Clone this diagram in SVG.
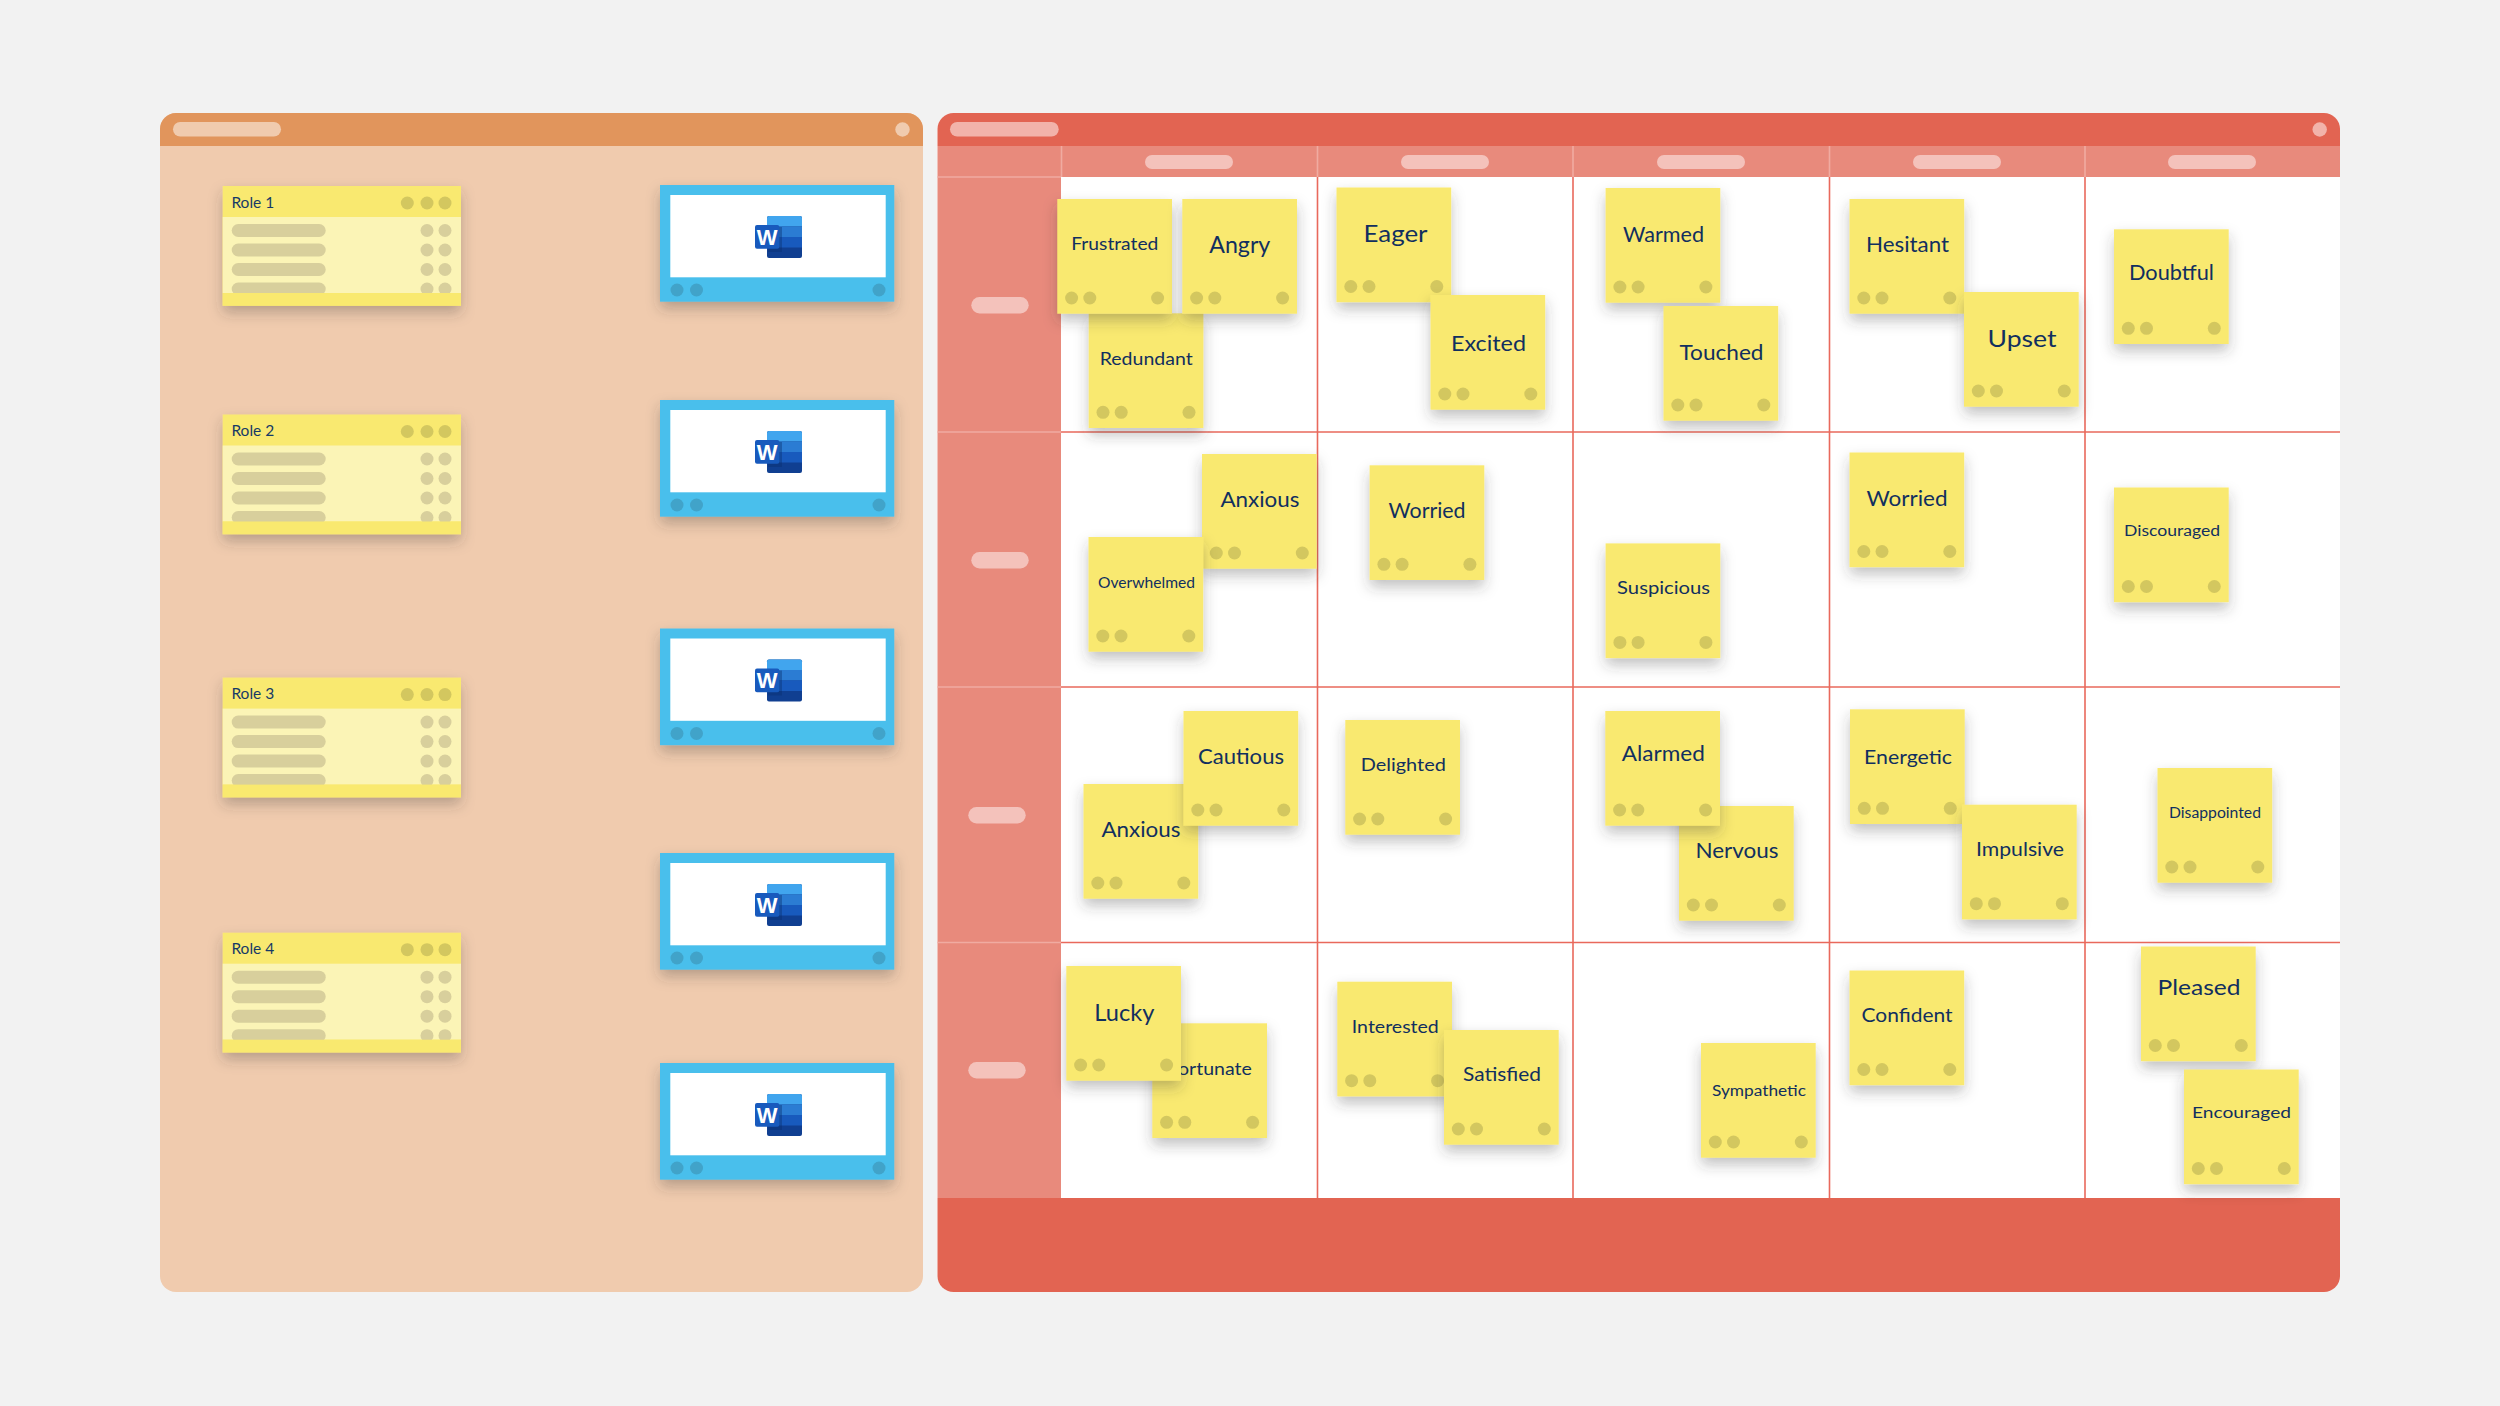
<svg xmlns="http://www.w3.org/2000/svg" width="2500" height="1406" viewBox="0 0 2500 1406">
<style>
.n{font-family:"Lato","Liberation Sans",sans-serif;fill:#112f5f;text-anchor:middle;dominant-baseline:central;font-weight:400;transform:translateY(-0.4px)}
.role{font-family:"Lato","Liberation Sans",sans-serif;fill:#163a66;font-size:15.5px;font-weight:400;dominant-baseline:central}
.pill{fill:#f4c2bb}
.line{stroke:#e9695c;stroke-width:1.6;fill:none}
.sep{stroke:#f0aba1;stroke-width:1.6;fill:none}
.d1{fill:#d3c75f}
.d2{fill:#d8cf9c}
.d3{fill:#41a3c9}
.wt{font-family:"Liberation Sans",sans-serif;font-weight:700;font-size:22px;fill:#fff;text-anchor:middle}
</style>
<defs>
<filter id="sh" x="-25%" y="-25%" width="150%" height="160%"><feDropShadow dx="0" dy="7" stdDeviation="7" flood-color="#3a3a3a" flood-opacity=".3"/></filter>
<g id="note"><rect width="114.7" height="114.7" fill="#f9e96f" filter="url(#sh)"/><circle class="d1" cx="14.3" cy="99" r="6.5"/><circle class="d1" cx="32.5" cy="99" r="6.5"/><circle class="d1" cx="100.3" cy="99" r="6.5"/></g>
<g id="rolecard">
<rect width="238.3" height="119.7" fill="#f9e96f" filter="url(#sh)"/>
<rect y="31" width="238.3" height="76" fill="#fbf4b6"/>
<rect x="9" y="38" width="94" height="13" rx="6.5" class="d2"/><rect x="9" y="57.5" width="94" height="13" rx="6.5" class="d2"/><rect x="9" y="77" width="94" height="13" rx="6.5" class="d2"/><rect x="9" y="96.5" width="94" height="13" rx="6.5" class="d2"/>
<circle class="d2" cx="204.3" cy="44.5" r="6.5"/><circle class="d2" cx="222.3" cy="44.5" r="6.5"/><circle class="d2" cx="204.3" cy="64" r="6.5"/><circle class="d2" cx="222.3" cy="64" r="6.5"/><circle class="d2" cx="204.3" cy="83.5" r="6.5"/><circle class="d2" cx="222.3" cy="83.5" r="6.5"/><circle class="d2" cx="204.3" cy="103" r="6.5"/><circle class="d2" cx="222.3" cy="103" r="6.5"/>
<rect y="107" width="238.3" height="12.7" fill="#f9e96f"/>
<circle class="d1" cx="184.6" cy="17" r="6.5"/><circle class="d1" cx="204.3" cy="17" r="6.5"/><circle class="d1" cx="222.3" cy="17" r="6.5"/>
</g>
<g id="word">
<rect width="234.3" height="116.7" fill="#4abfec" filter="url(#sh)"/>
<rect x="10.3" y="10" width="215.4" height="82.3" fill="#fff"/>
<circle class="d3" cx="17" cy="105" r="6.5"/><circle class="d3" cx="36.5" cy="105" r="6.5"/><circle class="d3" cx="219" cy="105" r="6.5"/>
<rect x="107" y="31" width="35" height="42" rx="2" fill="#103f91"/>
<path d="M107 33a2 2 0 0 1 2-2h31a2 2 0 0 1 2 2v8.500h-35z" fill="#41a5ee"/>
<rect x="107" y="41.500" width="35" height="10.500" fill="#2b7cd3"/>
<rect x="107" y="52" width="35" height="10.500" fill="#185abd"/>
<rect x="108" y="42" width="14" height="25" fill="#0b2f6e" opacity=".4"/>
<rect x="95" y="40" width="24.300" height="23.700" rx="2" fill="#185abd"/>
<text class="wt" x="107.200" y="59.500">W</text>
</g>
</defs>
<rect width="2500" height="1406" fill="#f2f2f2"/>

<g id="panel-left">
<path d="M176 113H907a16 16 0 0 1 16 16V1276a16 16 0 0 1-16 16H176a16 16 0 0 1-16-16V129a16 16 0 0 1 16-16z" fill="#f0cbae"/>
<path d="M176 113H907a16 16 0 0 1 16 16V146H160V129a16 16 0 0 1 16-16z" fill="#e1955c"/>
<rect x="173" y="122" width="108" height="14.500" rx="7.200" fill="#f0cbae"/>
<circle cx="902.500" cy="129.500" r="7.200" fill="#f0cbae"/>
</g>

<g id="panel-right">
<path d="M953.500 113H2324a16 16 0 0 1 16 16V1276a16 16 0 0 1-16 16H953.500a16 16 0 0 1-16-16V129a16 16 0 0 1 16-16z" fill="#fff"/>
<rect x="937.500" y="146" width="1402.500" height="31" fill="#e88a7c"/>
<rect x="937.500" y="177" width="123.500" height="1021" fill="#e88a7c"/>
<path d="M953.500 113H2324a16 16 0 0 1 16 16V146H937.500V129a16 16 0 0 1 16-16z" fill="#e26452"/>
<path d="M937.500 1198H2340V1276a16 16 0 0 1-16 16H953.500a16 16 0 0 1-16-16z" fill="#e26452"/>
<path class="sep" d="M1061.500 146V177M1317.500 146V177M1573 146V177M1829.500 146V177M2085 146V177M937.500 177H1061M937.500 432H1061M937.500 687H1061M937.500 942.500H1061"/>
<path class="line" d="M1061 432H2340M1061 687H2340M1061 942.500H2340M1317.500 177V1198M1573 177V1198M1829.500 177V1198M2085 177V1198"/>
<rect x="950" y="122" width="108.700" height="14.500" rx="7.200" fill="#f2b3aa"/>
<circle cx="2319.700" cy="129.500" r="7.200" fill="#f2b3aa"/>
<rect class="pill" x="1145" y="155" width="88" height="14" rx="7"/><rect class="pill" x="1401" y="155" width="88" height="14" rx="7"/><rect class="pill" x="1657" y="155" width="88" height="14" rx="7"/><rect class="pill" x="1913" y="155" width="88" height="14" rx="7"/><rect class="pill" x="2168" y="155" width="88" height="14" rx="7"/>
<rect class="pill" x="971.300" y="297" width="57.400" height="16.500" rx="8.200"/><rect class="pill" x="971.300" y="552" width="57.400" height="16.500" rx="8.200"/><rect class="pill" x="968.300" y="807" width="57.400" height="16.500" rx="8.200"/><rect class="pill" x="968.300" y="1062" width="57.400" height="16.500" rx="8.200"/>
</g>

<g id="connectors"/>

<g id="role-1" transform="translate(222.700 186)"><use href="#rolecard"/><text class="role" x="8.700" y="15.500">Role 1</text></g>
<g id="role-2" transform="translate(222.700 414.500)"><use href="#rolecard"/><text class="role" x="8.700" y="15">Role 2</text></g>
<g id="role-3" transform="translate(222.700 677.600)"><use href="#rolecard"/><text class="role" x="8.700" y="15">Role 3</text></g>
<g id="role-4" transform="translate(222.700 932.700)"><use href="#rolecard"/><text class="role" x="8.700" y="15">Role 4</text></g>

<g id="word-1" transform="translate(660 185)"><use href="#word"/></g>
<g id="word-2" transform="translate(660 400)"><use href="#word"/></g>
<g id="word-3" transform="translate(660 628.500)"><use href="#word"/></g>
<g id="word-4" transform="translate(660 853)"><use href="#word"/></g>
<g id="word-5" transform="translate(660 1063)"><use href="#word"/></g>

<g id="note-redundant" transform="translate(1088.700 313.300)"><use href="#note"/><text class="n" x="57.500" y="44.700" font-size="18" textLength="93" lengthAdjust="spacingAndGlyphs">Redundant</text></g>
<g id="note-frustrated" transform="translate(1057.300 199)"><use href="#note"/><text class="n" x="57.500" y="44.700" font-size="18" textLength="87" lengthAdjust="spacingAndGlyphs">Frustrated</text></g>
<g id="note-angry" transform="translate(1182.300 199)"><use href="#note"/><text class="n" x="57.500" y="44.700" font-size="24" textLength="61" lengthAdjust="spacingAndGlyphs">Angry</text></g>
<g id="note-eager" transform="translate(1336.500 187.500)"><use href="#note"/><text class="n" x="59" y="45.200" font-size="24" textLength="64" lengthAdjust="spacingAndGlyphs">Eager</text></g>
<g id="note-excited" transform="translate(1430.500 295)"><use href="#note"/><text class="n" x="58" y="48" font-size="21" textLength="75" lengthAdjust="spacingAndGlyphs">Excited</text></g>
<g id="note-warmed" transform="translate(1605.600 188)"><use href="#note"/><text class="n" x="58" y="46" font-size="21" textLength="81" lengthAdjust="spacingAndGlyphs">Warmed</text></g>
<g id="note-touched" transform="translate(1663.500 306)"><use href="#note"/><text class="n" x="58" y="46" font-size="21" textLength="84" lengthAdjust="spacingAndGlyphs">Touched</text></g>
<g id="note-hesitant" transform="translate(1849.500 199)"><use href="#note"/><text class="n" x="58" y="44.700" font-size="21" textLength="83" lengthAdjust="spacingAndGlyphs">Hesitant</text></g>
<g id="note-upset" transform="translate(1964 292)"><use href="#note"/><text class="n" x="58" y="46" font-size="24" textLength="69" lengthAdjust="spacingAndGlyphs">Upset</text></g>
<g id="note-doubtful" transform="translate(2114 229.300)"><use href="#note"/><text class="n" x="57.500" y="43" font-size="21" textLength="85" lengthAdjust="spacingAndGlyphs">Doubtful</text></g>
<g id="note-anxious-1" transform="translate(1202 454)"><use href="#note"/><text class="n" x="58" y="45" font-size="21" textLength="79" lengthAdjust="spacingAndGlyphs">Anxious</text></g>
<g id="note-overwhelmed" transform="translate(1088.500 537)"><use href="#note"/><text class="n" x="58" y="46" font-size="14.500" textLength="97" lengthAdjust="spacingAndGlyphs">Overwhelmed</text></g>
<g id="note-worried-1" transform="translate(1369.600 465.300)"><use href="#note"/><text class="n" x="57.500" y="45" font-size="21" textLength="77" lengthAdjust="spacingAndGlyphs">Worried</text></g>
<g id="note-suspicious" transform="translate(1605.600 543.400)"><use href="#note"/><text class="n" x="58" y="43.800" font-size="18" textLength="93" lengthAdjust="spacingAndGlyphs">Suspicious</text></g>
<g id="note-worried-2" transform="translate(1849.500 452.500)"><use href="#note"/><text class="n" x="57.500" y="45" font-size="22" textLength="81" lengthAdjust="spacingAndGlyphs">Worried</text></g>
<g id="note-discouraged" transform="translate(2114 487.500)"><use href="#note"/><text class="n" x="58" y="42.500" font-size="15.500" textLength="96" lengthAdjust="spacingAndGlyphs">Discouraged</text></g>
<g id="note-anxious-2" transform="translate(1083.500 784)"><use href="#note"/><text class="n" x="57.500" y="45" font-size="22" textLength="79" lengthAdjust="spacingAndGlyphs">Anxious</text></g>
<g id="note-cautious" transform="translate(1183.500 711)"><use href="#note"/><text class="n" x="57.500" y="45" font-size="21" textLength="86" lengthAdjust="spacingAndGlyphs">Cautious</text></g>
<g id="note-delighted" transform="translate(1345.300 720)"><use href="#note"/><text class="n" x="58" y="44" font-size="18" textLength="85" lengthAdjust="spacingAndGlyphs">Delighted</text></g>
<g id="note-nervous" transform="translate(1679 806)"><use href="#note"/><text class="n" x="58" y="44" font-size="21" textLength="83" lengthAdjust="spacingAndGlyphs">Nervous</text></g>
<g id="note-alarmed" transform="translate(1605.300 711)"><use href="#note"/><text class="n" x="58" y="42" font-size="21" textLength="83" lengthAdjust="spacingAndGlyphs">Alarmed</text></g>
<g id="note-energetic" transform="translate(1850 709.300)"><use href="#note"/><text class="n" x="58" y="48" font-size="19.500" textLength="88" lengthAdjust="spacingAndGlyphs">Energetic</text></g>
<g id="note-impulsive" transform="translate(1962 804.700)"><use href="#note"/><text class="n" x="58" y="44" font-size="19.500" textLength="88" lengthAdjust="spacingAndGlyphs">Impulsive</text></g>
<g id="note-disappointed" transform="translate(2157.500 768)"><use href="#note"/><text class="n" x="57.500" y="45" font-size="14.500" textLength="92" lengthAdjust="spacingAndGlyphs">Disappointed</text></g>
<g id="note-fortunate" transform="translate(1152.300 1023.300)"><use href="#note"/><text class="n" x="57.500" y="45" font-size="18" textLength="84" lengthAdjust="spacingAndGlyphs">Fortunate</text></g>
<g id="note-lucky" transform="translate(1066.300 966)"><use href="#note"/><text class="n" x="58" y="45.500" font-size="24" textLength="60" lengthAdjust="spacingAndGlyphs">Lucky</text></g>
<g id="note-interested" transform="translate(1337.300 981.700)"><use href="#note"/><text class="n" x="58" y="44.500" font-size="18" textLength="87" lengthAdjust="spacingAndGlyphs">Interested</text></g>
<g id="note-satisfied" transform="translate(1444 1030)"><use href="#note"/><text class="n" x="58" y="43.500" font-size="20" textLength="78" lengthAdjust="spacingAndGlyphs">Satisfied</text></g>
<g id="note-sympathetic" transform="translate(1701 1043)"><use href="#note"/><text class="n" x="58" y="47" font-size="15.500" textLength="94" lengthAdjust="spacingAndGlyphs">Sympathetic</text></g>
<g id="note-confident" transform="translate(1849.500 970.500)"><use href="#note"/><text class="n" x="57.500" y="44" font-size="19.500" textLength="91" lengthAdjust="spacingAndGlyphs">Confident</text></g>
<g id="note-pleased" transform="translate(2141 946.500)"><use href="#note"/><text class="n" x="58" y="40.500" font-size="22" textLength="83" lengthAdjust="spacingAndGlyphs">Pleased</text></g>
<g id="note-encouraged" transform="translate(2184 1069.500)"><use href="#note"/><text class="n" x="57.500" y="42" font-size="16" textLength="99" lengthAdjust="spacingAndGlyphs">Encouraged</text></g>
</svg>
